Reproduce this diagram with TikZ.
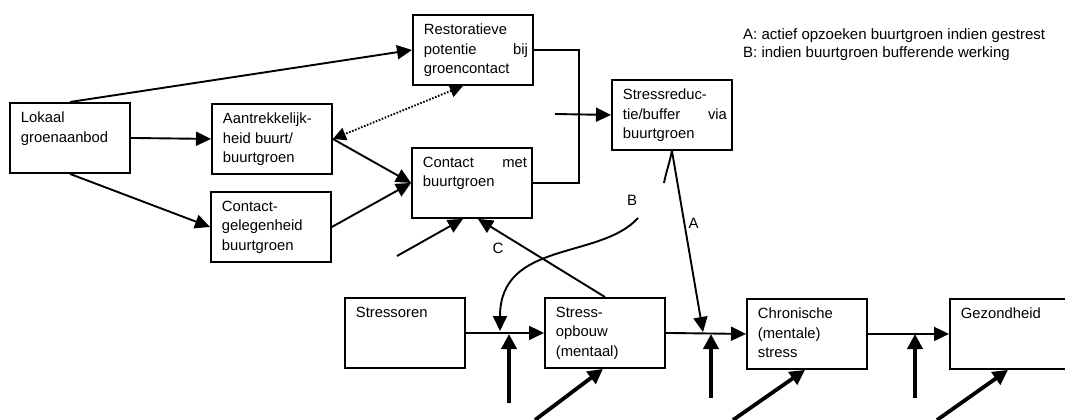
\documentclass[tikz,border=0pt]{standalone}
\usepackage{fontspec}
\setmainfont{Liberation Sans}
\usetikzlibrary{arrows.meta}
\newcommand{\vak}[1]{\hspace*{6pt}\parbox[t][52pt][t]{104pt}{#1}}

\begin{document}
\begin{tikzpicture}[x=1pt,y=-1pt,font=\fontsize{15pt}{18pt}\selectfont,
  blok/.style={draw,line width=1.9pt,inner xsep=5pt,inner ysep=9pt,anchor=north west,
    minimum width=120pt,minimum height=70pt,font=\fontsize{14.8pt}{19.5pt}\selectfont},
  lijn/.style={line width=1.9pt},
  pijl/.style={lijn,-{Triangle[length=15pt,width=14pt]}},
  dikpijl/.style={line width=3.8pt,-{Triangle[length=15pt,width=15pt]}},
  stip/.style={lijn,dash pattern=on 1.6pt off 1.6pt,
    {Triangle[length=13pt,width=13pt]}-{Triangle[length=13pt,width=13pt]}}]
\useasboundingbox (0,0) rectangle (1065,420);
\node[blok] (lokaal) at (9,102) {\vak{Lokaal\\groenaanbod}};
\node[blok] (aantrek) at (211,103) {\vak{Aantrekkelijk-\\heid buurt/\\buurtgroen}};
\node[blok] (gelegen) at (210,191) {\vak{Contact-\\gelegenheid\\buurtgroen}};
\node[blok] (herstel) at (412,14) {\vak{Restoratieve\\potentie\hfill bij\\groencontact}};
\node[blok] (contact) at (411,147) {\vak{Contact\hfill met\\buurtgroen}};
\node[blok] (reductie) at (611,79) {\vak{Stressreduc-\\tie/buffer\hfill via\\buurtgroen}};
\node[blok] (stressoren) at (344,297) {\vak{Stressoren}};
\node[blok] (opbouw) at (544,297) {\vak{Stress-\\opbouw\\(mentaal)}};
\node[blok] (chronisch) at (746,298) {\vak{Chronische\\(mentale)\\stress}};
\node[blok] (gezond) at (949,298) {\vak{Gezondheid}};
\node[anchor=north west,inner sep=0pt,align=left] (legenda) at (743,28)
  {A: actief opzoeken buurtgroen indien gestrest\\B: indien buurtgroen bufferende werking};
\node (labelB) at (632,200) {B};
\node (labelC) at (498,248) {C};
\coordinate (knik) at (579,115);
\coordinate (invoer) at (555,114);
\coordinate (jA) at (703,332);
\coordinate (jB) at (500,331);
\coordinate (bstart) at (638,218);
\coordinate (los) at (397,256);
\draw[pijl] (lokaal.north) -- (herstel.west);
\draw[pijl] (lokaal.east) -- (aantrek.west);
\draw[pijl] (lokaal.south) -- (gelegen.west);
\draw[pijl] (aantrek.east) -- (contact.west);
\draw[pijl] (gelegen.east) -- (contact.west);
\draw[stip] ([xshift=-10pt]herstel.south) -- (aantrek.east);
\draw[lijn] (herstel.east) -| (knik) |- (contact.east);
\draw[pijl] (invoer) -- (reductie.west);
\draw[pijl] (reductie.south) -- (jA) node[pos=0.4,right] {A};
\draw[lijn] (664,183) .. controls (666,172) and (670,162) .. (672,150);
\draw[pijl] (bstart) .. controls (600,260) and (500,240) .. (jB);
\draw[pijl] (opbouw.north) -- ([xshift=6pt]contact.south);
\draw[pijl] (los) -- ([xshift=-9pt]contact.south);
\draw[pijl] (stressoren.east) -- (opbouw.west);
\draw[pijl] (opbouw.east) -- (chronisch.west);
\draw[pijl] (chronisch.east) -- (gezond.west);
\foreach \n/\x/\y in {1/509/403,2/711/398,3/915/398} {
  \coordinate (onder\n) at (\x,\y);
  \coordinate (boven\n) at (\x,334);
  \draw[dikpijl] (onder\n) -- (boven\n);
}
\foreach \n/\x/\doel in {1/535/opbouw,2/733/chronisch,3/937/gezond} {
  \coordinate (schuin\n) at (\x,420);
  \draw[dikpijl] (schuin\n) -- ([xshift=-2pt]\doel.south);
}
\end{tikzpicture}
\end{document}
